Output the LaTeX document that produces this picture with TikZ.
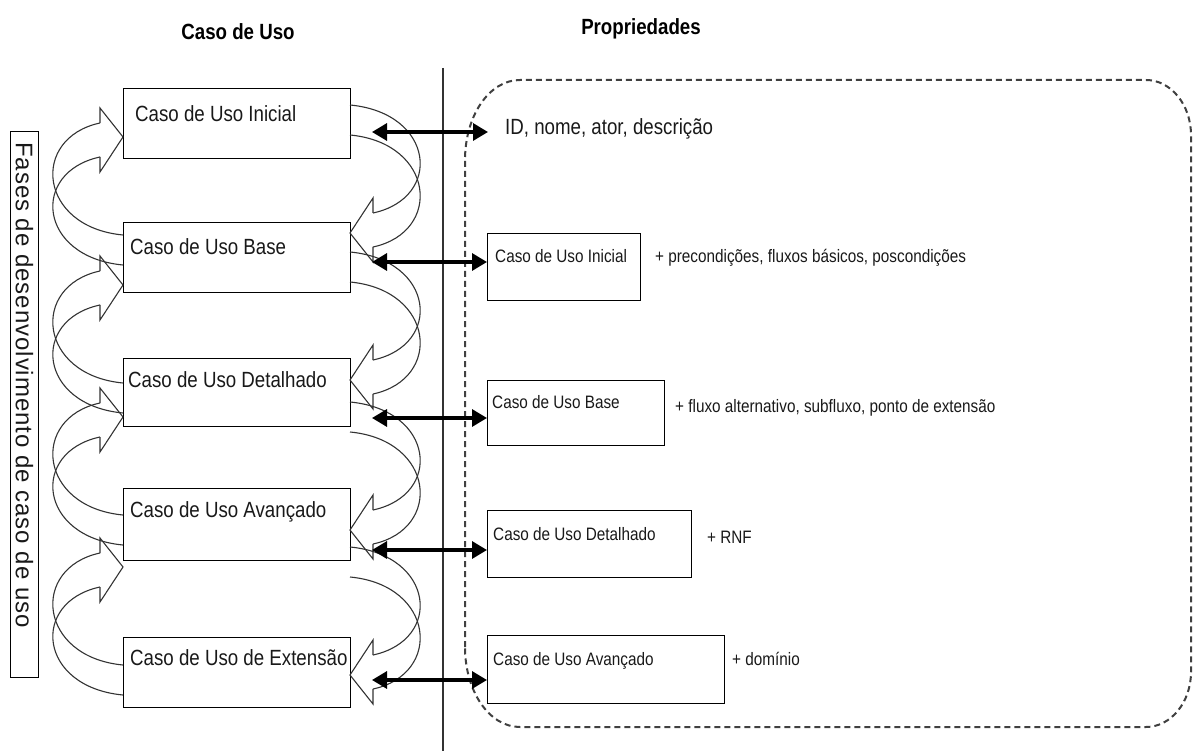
\documentclass[tikz,border=0pt]{standalone}
\usepackage{fontspec}
\setmainfont{Liberation Sans}
\newfontfamily\narrowsans{Liberation Sans}[FakeStretch=0.85]
\newfontfamily\spacedsans{Liberation Sans}[LetterSpace=4.0]
\usetikzlibrary{arrows.meta,calc}

\begin{document}
\begin{tikzpicture}[x=1pt,y=-1pt,
  lbox/.style={draw=black, line width=1.4pt, minimum width=227pt, anchor=north west, inner sep=0pt},
  sbox/.style={draw=black, line width=1.4pt, anchor=north west, inner sep=0pt},
  btext/.style={anchor=base west, inner sep=0pt, text=black!90, font=\narrowsans\fontsize{22}{26}\selectfont},
  stext/.style={anchor=base west, inner sep=0pt, text=black!90, font=\narrowsans\fontsize{18}{22}\selectfont},
  headtext/.style={anchor=base, inner sep=0pt, font=\narrowsans\bfseries\fontsize{22}{26}\selectfont},
  bandline/.style={draw=black!80, line width=1.1pt},
  dbl/.style={line width=3.2pt, {Triangle[length=15pt,width=17pt]}-{Triangle[length=15pt,width=17pt]}},
  border/.style={draw=black!75, line width=2pt, dash pattern=on 6pt off 4pt},
  bandarrow/.pic={
    % curved block arrow: head plus the two edges of the twisted band
    \draw[bandline] (0,-17) -- (0,-32) -- (23,-3) -- (0,32) -- (0,17);
    \draw[bandline] (0,-17) .. controls (-70,-2) and (-62,87) .. (23,95);
    \draw[bandline] (0,17) .. controls (-70,32) and (-62,117) .. (23,125);
  }
]
\useasboundingbox (0,0) rectangle (1194,751);

% column titles
\node[headtext] (tcaso) at (238,40) {Caso de Uso};
\node[headtext] (tprop) at (641,35) {Propriedades};

% separator
\draw[line width=1.2pt, black!80] (443,68) -- (443,751);

% vertical phase label
\node[draw=black, line width=1.2pt, minimum width=28pt, minimum height=546pt, anchor=north west, inner sep=0pt] (fases) at (10,131) {};
\node[rotate=-90, anchor=base west, inner sep=0pt, text=black!90, font=\spacedsans\fontsize{24}{28}\selectfont] (fasestxt) at (16,142) {Fases de desenvolvimento de caso de uso};

% use case stages
\node[lbox, minimum height=70pt] (ini) at (123,88) {};
\node[lbox, minimum height=70pt] (bas) at (123,222) {};
\node[lbox, minimum height=68pt] (det) at (123,358) {};
\node[lbox, minimum height=72pt] (ava) at (123,488) {};
\node[lbox, minimum height=70pt] (ext) at (123,637) {};
\node[btext] at (135,122) {Caso de Uso Inicial};
\node[btext] at (130,255) {Caso de Uso Base};
\node[btext] at (128,387) {Caso de Uso Detalhado};
\node[btext] at (130,517) {Caso de Uso Avançado};
\node[btext] at (130,665) {Caso de Uso de Extensão};

% backward loops (left)
\pic at (100,140) {bandarrow};
\pic at (100,288) {bandarrow};
\pic at (100,420) {bandarrow};
\pic at (100,570) {bandarrow};
% forward loops (right)
\pic[rotate=180] at (373,230) {bandarrow};
\pic[rotate=180] at (373,377) {bandarrow};
\pic[rotate=180] at (373,527) {bandarrow};
\pic[rotate=180] at (373,672) {bandarrow};

% properties region
\draw[border] (465,647) -- (465,160) .. controls (465,116) and (489,80) .. (520,80)
  -- (1146,80) .. controls (1171,80) and (1191,105) .. (1191,135)
  -- (1191,672) .. controls (1191,702) and (1171,727) .. (1146,727)
  -- (520,727) .. controls (489,727) and (465,691) .. (465,647) -- cycle;

\node[btext] (idtxt) at (505,135) {ID, nome, ator, descrição};

\node[sbox, minimum width=153pt, minimum height=67pt] (sb1) at (487,233) {};
\node[sbox, minimum width=177pt, minimum height=65pt] (sb2) at (487,380) {};
\node[sbox, minimum width=204pt, minimum height=67pt] (sb3) at (487,510) {};
\node[sbox, minimum width=237pt, minimum height=68pt] (sb4) at (487,635) {};
\node[stext] at (495,263) {Caso de Uso Inicial};
\node[stext] at (492,408) {Caso de Uso Base};
\node[stext] at (493,540) {Caso de Uso Detalhado};
\node[stext] at (493,665) {Caso de Uso Avançado};
\node[stext] at (655,263) {+ precondições, fluxos básicos, poscondições};
\node[stext] at (675,412) {+ fluxo alternativo, subfluxo, ponto de extensão};
\node[stext] at (707,543) {+ RNF};
\node[stext] at (732,665) {+ domínio};

% links between stages and their properties
\coordinate (a1) at (372,132);
\coordinate (a2) at (372,262);
\coordinate (a3) at (372,418);
\coordinate (a4) at (372,550);
\coordinate (a5) at (372,680);
\coordinate (b1) at (488,132);
\draw[dbl] (a1) -- (b1);
\draw[dbl] (a2) -- (a2 -| sb1.west);
\draw[dbl] (a3) -- (a3 -| sb2.west);
\draw[dbl] (a4) -- (a4 -| sb3.west);
\draw[dbl] (a5) -- (a5 -| sb4.west);
\end{tikzpicture}
\end{document}
